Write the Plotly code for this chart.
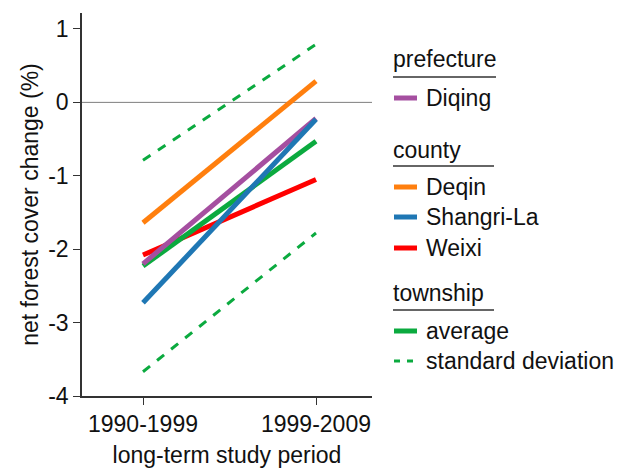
import plotly.graph_objects as go

periods = ["1990-1999", "1999-2009"]
diqing = [-2.20, -0.22]
deqin = [-1.64, 0.29]
shangrila = [-2.73, -0.23]
weixi = [-2.08, -1.05]
township_avg = [-2.23, -0.53]
sd_upper = [-0.79, 0.79]
sd_lower = [-3.67, -1.78]

C_PURPLE = "#A54FA0"
C_ORANGE = "#FF7F0E"
C_BLUE = "#1F77B4"
C_RED = "#FF0000"
C_GREEN = "#0BAA3F"

FONT = "Liberation Sans, Arial, sans-serif"
FS = 23
W, H = 617, 468
L, R, T, B = 82, 372, 13, 396

fig = go.Figure()

def add(y, color, width, dash="solid"):
    fig.add_trace(go.Scatter(x=[0, 1], y=y, mode="lines",
                             line=dict(color=color, width=width, dash=dash),
                             hoverinfo="skip", showlegend=False))

add(sd_upper, C_GREEN, 3, "9px,9px")
add(sd_lower, C_GREEN, 3, "9px,9px")
add(weixi, C_RED, 5)
add(township_avg, C_GREEN, 5)
add(diqing, C_PURPLE, 5)
add(deqin, C_ORANGE, 5)
add(shangrila, C_BLUE, 5)

# zero line
fig.add_shape(type="line", xref="paper", yref="y", x0=0, x1=1, y0=0, y1=0,
              line=dict(color="#7f7f7f", width=1), layer="below")

def px(xp):
    return (xp - L) / (R - L)

def py(yp):
    return (B - yp) / (B - T)

# manual legend
groups = [
    ("prefecture", 59, 77, 496, [("Diqing", 98, C_PURPLE, "solid")]),
    ("county", 150, 166, 494, [("Deqin", 187, C_ORANGE, "solid"),
                               ("Shangri-La", 217, C_BLUE, "solid"),
                               ("Weixi", 248, C_RED, "solid")]),
    ("township", 293, 310, 494, [("average", 331, C_GREEN, "solid"),
                                 ("standard deviation", 361, C_GREEN, "dash")]),
]
for title, ty, uy, ux, items in groups:
    fig.add_annotation(x=px(391), y=py(ty), xref="paper", yref="paper",
                       text=title, showarrow=False, xanchor="left", yanchor="middle",
                       font=dict(family=FONT, size=FS, color="#111"))
    fig.add_shape(type="line", xref="paper", yref="paper",
                  x0=px(393), x1=px(ux), y0=py(uy), y1=py(uy),
                  line=dict(color="#333", width=1.3))
    for name, iy, col, d in items:
        if d == "solid":
            fig.add_shape(type="line", xref="paper", yref="paper",
                          x0=px(394), x1=px(417), y0=py(iy), y1=py(iy),
                          line=dict(color=col, width=5))
        else:
            for a, b in [(394, 400), (407, 413)]:
                fig.add_shape(type="line", xref="paper", yref="paper",
                              x0=px(a), x1=px(b), y0=py(iy), y1=py(iy),
                              line=dict(color=col, width=3))
        fig.add_annotation(x=px(424), y=py(iy), xref="paper", yref="paper",
                           text=name, showarrow=False, xanchor="left", yanchor="middle",
                           font=dict(family=FONT, size=FS, color="#111"))

x0c = (L - 143) / (316 - 143)
x1c = (R - 143) / (316 - 143)

fig.update_layout(
    width=W, height=H,
    margin=dict(l=L, r=W - R, t=T, b=H - B, pad=0),
    paper_bgcolor="white", plot_bgcolor="white",
    font=dict(family=FONT, size=FS, color="#111"),
    showlegend=False,
    xaxis=dict(range=[x0c, x1c], tickmode="array", tickvals=[0, 1], ticktext=periods,
               automargin=False,
               showgrid=False, zeroline=False, showline=True, linecolor="#333", linewidth=1.5,
               ticks="outside", ticklen=7, tickcolor="#333", tickwidth=1,
               tickfont=dict(size=FS, family=FONT),
               title=dict(text="long-term study period", standoff=14,
                          font=dict(size=FS, family=FONT))),
    yaxis=dict(range=[-4, 1 + (29 - 13) / 73.5], tickmode="array",
               tickvals=[1, 0, -1, -2, -3, -4], ticktext=["1", "0", "-1", "-2", "-3", "-4"],
               automargin=False,
               showgrid=False, zeroline=False, showline=True, linecolor="#333", linewidth=1.5,
               ticks="outside", ticklen=7, tickcolor="#333", tickwidth=1,
               tickfont=dict(size=FS, family=FONT),
               title=dict(text="net forest cover change (%)", standoff=3,
                          font=dict(size=FS, family=FONT))),
)

fig.write_html("out.html", config={"displayModeBar": False},
               post_script="document.body.style.margin='0';")
